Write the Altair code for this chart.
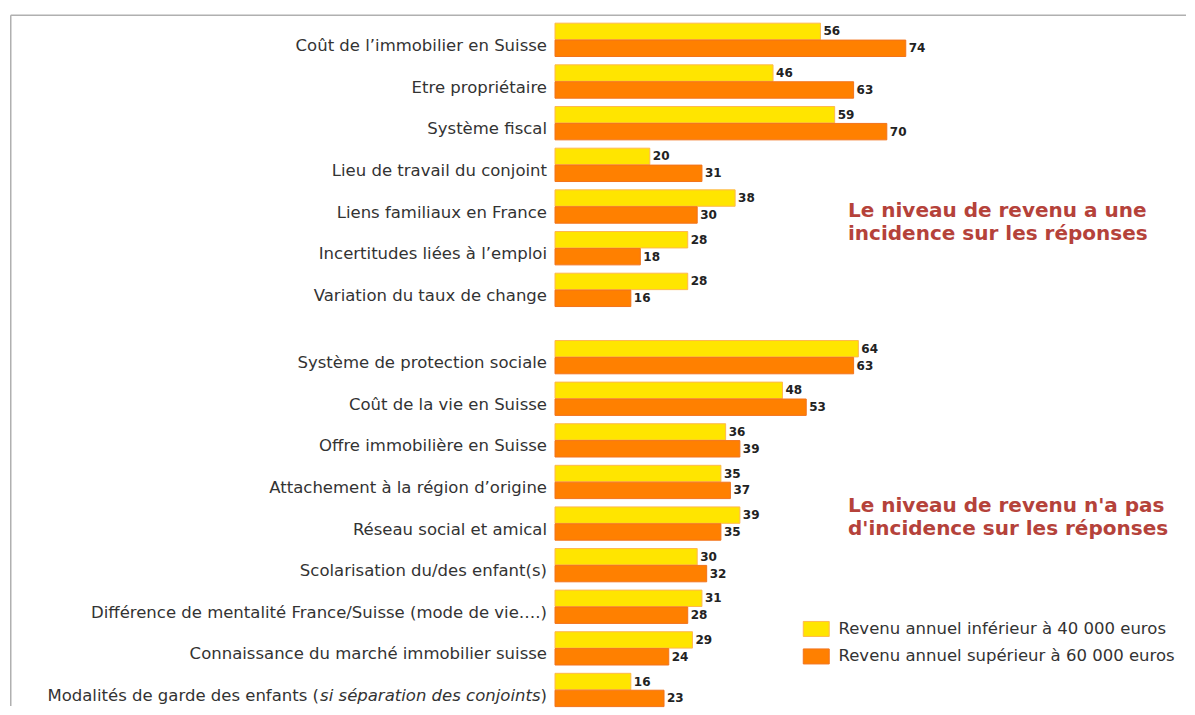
import altair as alt
import pandas as pd

FONT = "DejaVu Sans"

series = ["Revenu annuel inférieur à 40 000 euros", "Revenu annuel supérieur à 60 000 euros"]
fill_colors = ["#FFE500", "#FF8000"]
stroke_colors = ["#FFB84D", "#F2731C"]

cats1 = [
    "Coût de l’immobilier en Suisse",
    "Etre propriétaire",
    "Système fiscal",
    "Lieu de travail du conjoint",
    "Liens familiaux en France",
    "Incertitudes liées à l’emploi",
    "Variation du taux de change",
]
low1 = [56, 46, 59, 20, 38, 28, 28]
high1 = [74, 63, 70, 31, 30, 18, 16]

special_parts = ["Modalités de garde des enfants (", "si séparation des conjoints", ")"]
special_cat = "".join(special_parts)

cats2 = [
    "Système de protection sociale",
    "Coût de la vie en Suisse",
    "Offre immobilière en Suisse",
    "Attachement à la région d’origine",
    "Réseau social et amical",
    "Scolarisation du/des enfant(s)",
    "Différence de mentalité France/Suisse (mode de vie….)",
    "Connaissance du marché immobilier suisse",
    special_cat,
]
low2 = [64, 48, 36, 35, 39, 30, 31, 29, 16]
high2 = [63, 53, 39, 37, 35, 32, 28, 24, 23]

note1 = ["Le niveau de revenu a une", "incidence sur les réponses"]
note2 = ["Le niveau de revenu n'a pas", "d'incidence sur les réponses"]

LABEL_SIZE = 16.5


def long_df(cats, low, high):
    rows = []
    for c, a, b in zip(cats, low, high):
        rows.append({"cat": c, "series": series[0], "value": a})
        rows.append({"cat": c, "series": series[1], "value": b})
    return pd.DataFrame(rows)


def panel(cats, low, high, legend, align):
    df = long_df(cats, low, high)
    base = alt.Chart(df)
    y = alt.Y("cat:N", sort=cats, axis=None,
              scale=alt.Scale(paddingInner=0.2, paddingOuter=0.1, align=align))
    yoff = alt.YOffset("series:N", sort=series,
                       scale=alt.Scale(domain=series, paddingInner=0.03))
    x = alt.X("value:Q", axis=None, scale=alt.Scale(domain=[0, 100]))
    color = alt.Color("series:N", scale=alt.Scale(domain=series, range=fill_colors),
                      legend=legend, title=None)
    stroke = alt.Stroke("series:N", scale=alt.Scale(domain=series, range=stroke_colors),
                        legend=None)
    bars = base.mark_bar(strokeWidth=1).encode(x=x, y=y, yOffset=yoff, color=color, stroke=stroke)
    vals = base.mark_text(align="left", baseline="middle", dx=3, fontSize=12,
                          fontWeight="bold", color="#222222", font=FONT).encode(
        x=x, y=y, yOffset=yoff, text="value:Q")
    labels = base.transform_filter(
        (alt.datum.series == series[0]) & (alt.datum.cat != special_cat)
    ).mark_text(align="right", baseline="middle", dx=-8, dy=6, fontSize=LABEL_SIZE,
                color="#333333", font=FONT).encode(x=alt.value(0), y=y, text="cat:N")
    return base, y, [bars, vals, labels]


# ---- panel 1
base1, y1, layers1 = panel(cats1, low1, high1, None, 0.5)
dummy = alt.Chart(pd.DataFrame({"d": [0]}))
frame_top = dummy.mark_rule(color="#B0B0B0", strokeWidth=1.5).encode(
    x=alt.value(-544.25), x2=alt.value(631), y=alt.value(-3.83))
frame_left = dummy.mark_rule(color="#B0B0B0", strokeWidth=1.5).encode(
    x=alt.value(-544.25), y=alt.value(-3.83), y2=alt.value(687))
ann1 = dummy.mark_text(text=note1, align="left", baseline="alphabetic", fontSize=20,
                       fontWeight="bold", color="#B5423A", font=FONT, lineHeight=23).encode(
    x=alt.value(293), y=alt.value(198))
p1 = alt.layer(frame_top, frame_left, *layers1, ann1).properties(width=474, height=291.7)

# ---- panel 2
legend2 = alt.Legend(orient="none", legendX=253, legendY=288.5, padding=0,
                     symbolType="M-1.73,-1L1.73,-1L1.73,1L-1.73,1Z", symbolSize=225,
                     symbolStrokeColor="#FFA030", symbolStrokeWidth=1, symbolOpacity=1,
                     labelFont=FONT, labelFontSize=16.5, labelColor="#333333",
                     labelOffset=14, rowPadding=7.5, labelLimit=400)
base2, y2, layers2 = panel(cats2, low2, high2, legend2, 1)
spec = base2.transform_filter(
    (alt.datum.series == series[0]) & (alt.datum.cat == special_cat))
sp_close = spec.mark_text(text=special_parts[2], align="right", baseline="middle", dx=-8, dy=6,
                          fontSize=LABEL_SIZE, color="#333333", font=FONT).encode(
    x=alt.value(0), y=y2)
sp_ital = spec.mark_text(text=special_parts[1], align="right", baseline="middle", dx=-14.5, dy=6,
                         fontSize=LABEL_SIZE, fontStyle="italic", color="#333333", font=FONT).encode(
    x=alt.value(0), y=y2)
sp_norm = spec.mark_text(text=special_parts[0], align="right", baseline="middle", dx=-236, dy=6,
                         fontSize=LABEL_SIZE, color="#333333", font=FONT).encode(
    x=alt.value(0), y=y2)
ann2 = dummy.mark_text(text=note2, align="left", baseline="alphabetic", fontSize=20,
                       fontWeight="bold", color="#B5423A", font=FONT, lineHeight=23).encode(
    x=alt.value(293), y=alt.value(180))
p2 = alt.layer(*layers2, sp_close, sp_ital, sp_norm, ann2).properties(width=474, height=374.4)

chart = alt.vconcat(p1, p2, spacing=21.2, bounds="flush").resolve_scale(
    y="independent", yOffset="independent"
).resolve_legend(color="independent", stroke="independent").properties(
    padding={"left": 2, "top": 6, "right": 0, "bottom": 0},
    background="white",
).configure_view(strokeWidth=0, strokeOpacity=0)

chart.save("out.html", embed_options={"renderer": "svg", "actions": False})
